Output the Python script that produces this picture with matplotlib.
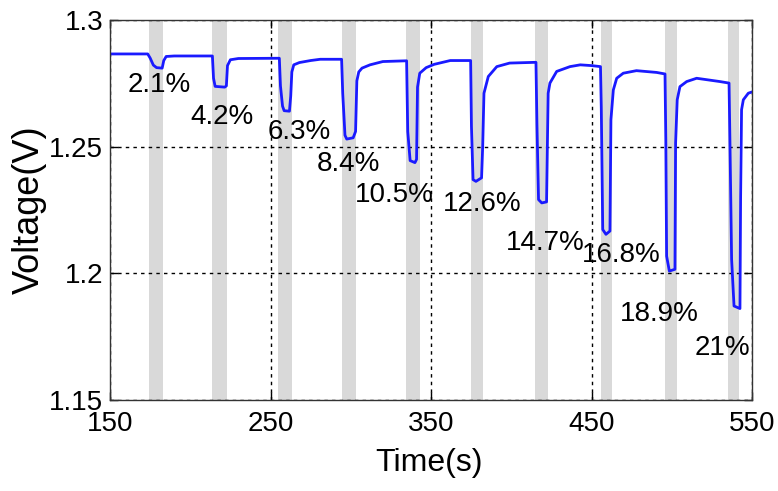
import matplotlib
matplotlib.use("Agg")
import matplotlib.pyplot as plt

plt.rcParams['font.family'] = ['Liberation Sans', 'DejaVu Sans']

# voltage trace (time in s, voltage in V)
t_s = [150, 173.5, 175, 177, 179, 182.5, 183.5, 185, 190, 213.8,
       214.5, 215.5, 221.5, 222.5, 223.2, 225, 230, 255.5,
       256.2, 257.5, 258.5, 261.8, 262.6, 263.3, 264.5, 268, 275, 281, 294.3,
       295, 296.4, 297.5, 301.5, 303, 303.8, 305, 307, 312, 320, 334.8,
       335.5, 337, 340, 341, 341.6, 343, 347, 352, 362, 374.7,
       375.2, 376.2, 378, 381.5, 382.2, 383, 385.7, 391, 399, 415.4,
       416, 417, 419, 422, 422.5, 423, 424.1, 428.3, 436.6, 443, 450, 455.6,
       456.1, 457, 459, 461.5, 462.1, 463.6, 465.7, 469.8, 478, 490.6, 495.8,
       496.3, 496.8, 498.5, 502, 502.4, 503.4, 505.1, 509.3, 515.5, 530, 535.7,
       536.3, 537.3, 538.8, 542.5, 542.9, 543.5, 544.6, 547.7, 550]
v = [1.2866, 1.2866, 1.2850, 1.2822, 1.2812, 1.2810, 1.2840, 1.2856, 1.2858, 1.2858,
     1.2770, 1.2738, 1.2735, 1.2740, 1.2820, 1.2843, 1.2848, 1.2849,
     1.2740, 1.2660, 1.2642, 1.2640, 1.2700, 1.2795, 1.2823, 1.2832, 1.2840, 1.2845, 1.2845,
     1.2710, 1.2545, 1.2530, 1.2535, 1.2560, 1.2760, 1.2795, 1.2810, 1.2823, 1.2836, 1.2839,
     1.2560, 1.2445, 1.2437, 1.2450, 1.2735, 1.2790, 1.2812, 1.2825, 1.2840, 1.2840,
     1.2580, 1.2370, 1.2363, 1.2377, 1.2500, 1.2711, 1.2777, 1.2816, 1.2830, 1.2833,
     1.2590, 1.2291, 1.2278, 1.2282, 1.2500, 1.2711, 1.2751, 1.2797, 1.2816, 1.2823, 1.2820, 1.2816,
     1.2652, 1.2173, 1.2154, 1.2167, 1.2606, 1.2724, 1.2770, 1.2790, 1.2800, 1.2793, 1.2787,
     1.2528, 1.2068, 1.2009, 1.2016, 1.2515, 1.2685, 1.2737, 1.2757, 1.2770, 1.2757, 1.2751,
     1.2501, 1.2055, 1.1871, 1.1861, 1.2300, 1.2646, 1.2685, 1.2711, 1.2716]

# grey pulse windows
band_start = [174.3, 213.3, 254.5, 294.3, 334.4, 374.7, 415.0, 455.7, 495.8, 534.8]
band_end = [183.1, 222.7, 263.2, 303.3, 343.1, 382.5, 423.0, 463.0, 503.0, 542.0]

# pulse labels
labels = ['2.1%', '4.2%', '6.3%', '8.4%', '10.5%', '12.6%', '14.7%', '16.8%', '18.9%', '21%']
label_t = [180.5, 219.5, 268.2, 298.3, 326.9, 382.1, 421.0, 468.4, 492.0, 531.6]
label_v = [1.2744, 1.2616, 1.2557, 1.2433, 1.2311, 1.2272, 1.2118, 1.2071, 1.1839, 1.1705]

xticks = [150, 250, 350, 450, 550]
yticks = [1.15, 1.2, 1.25, 1.3]
ytick_labels = ['1.15', '1.2', '1.25', '1.3']

fig = plt.figure(figsize=(7.78, 4.91), dpi=100)
ax = fig.add_axes([110/778, 91/491, 642/778, 380/491])

for a, b in zip(band_start, band_end):
    ax.axvspan(a, b, color='#d9d9d9', lw=0, zorder=0)

ax.plot(t_s, v, color='#1a1aff', lw=2, zorder=3)

for lab, x, y in zip(labels, label_t, label_v):
    ax.text(x, y, lab, ha='center', va='center', fontsize=20, zorder=4)

ax.set_xlim(150, 550)
ax.set_ylim(1.15, 1.3)
ax.set_xticks(xticks)
ax.set_xticklabels([str(x) for x in xticks])
ax.set_yticks(yticks)
ax.set_yticklabels(ytick_labels)
ax.tick_params(direction='in', length=6, width=1, labelsize=20,
               top=True, right=True)
ax.tick_params(axis='x', pad=8)
ax.tick_params(axis='y', pad=5)
ax.grid(True, color='black', lw=1, linestyle=(0, (2.5, 3)))
ax.set_axisbelow(False)
for g in ax.get_xgridlines() + ax.get_ygridlines():
    g.set_zorder(1)

for s in ax.spines.values():
    s.set_color('#333333')
    s.set_linewidth(1)
    s.set_zorder(5)

ax.set_xlabel('Time(s)', fontsize=23)
ax.xaxis.set_label_coords(0.497, -0.125)
ax.set_ylabel('Voltage(V)', fontsize=26)
ax.yaxis.set_label_coords(-0.098, 0.5)

fig.savefig('out.png', dpi=100)
